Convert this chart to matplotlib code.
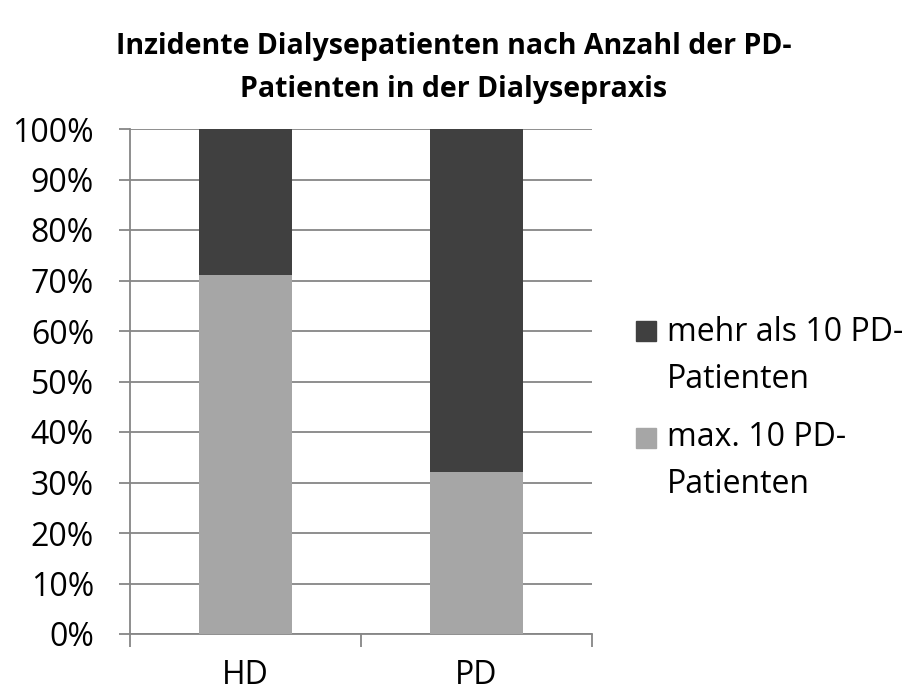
import numpy as np
import matplotlib
matplotlib.use("Agg")
from matplotlib import pyplot as plt
from matplotlib.patches import Rectangle

categories = ["HD", "PD"]
max10 = [71, 32]
mehr10 = [29, 68]
series_labels = ["mehr als 10 PD-\nPatienten", "max. 10 PD-\nPatienten"]
colors = {"mehr": "#404040", "max": "#a6a6a6"}
yticks = np.arange(0, 101, 10)

plt.rcParams["font.family"] = ["Open Sans", "DejaVu Sans"]

fig = plt.figure(figsize=(9.07, 6.96), dpi=100)
W, H = 907, 696
ax = fig.add_axes([130 / W, 1 - 634 / H, 462 / W, 505 / H])

x = np.arange(len(categories))
ax.bar(x, max10, width=0.4, color=colors["max"], zorder=3)
ax.bar(x, mehr10, width=0.4, bottom=max10, color=colors["mehr"], zorder=3)

ax.set_xlim(-0.5, 1.5)
ax.set_ylim(0, 100)
ax.set_yticks(yticks)
ax.set_yticklabels([f"{v}%" for v in yticks], fontsize=23)
ax.yaxis.grid(True, color="#868686", linewidth=1.3, zorder=0)
ax.tick_params(axis="y", length=8, width=1.3, color="#868686", pad=18)

ax.set_xticks(x)
ax.set_xticklabels(categories, fontsize=23)
ax.set_xticks([-0.5, 0.5, 1.5], minor=True)
ax.tick_params(axis="x", which="major", length=0, pad=18)
ax.tick_params(axis="x", which="minor", length=9, width=1.3, color="#868686")

for side in ["top", "right"]:
    ax.spines[side].set_visible(False)
for side in ["left", "bottom"]:
    ax.spines[side].set_color("#868686")
    ax.spines[side].set_linewidth(1.3)

fig.text(0.5, 1 - 68 / H, "Inzidente Dialysepatienten nach Anzahl der PD-\nPatienten in der Dialysepraxis",
         ha="center", va="center", fontsize=20.5, fontweight="bold", linespacing=1.6)

# legend drawn by hand to keep the wrapped-label look
for label, key, ytop, ybase in [(series_labels[0], "mehr", 321, 388), (series_labels[1], "max", 428, 493)]:
    fig.add_artist(Rectangle((636 / W, 1 - (ytop + 20) / H), 20 / W, 20 / H,
                             transform=fig.transFigure, color=colors[key]))
    fig.text(667 / W, 1 - ybase / H, label, ha="left", va="baseline", fontsize=23, linespacing=1.55)

fig.savefig("out.png", dpi=100)
